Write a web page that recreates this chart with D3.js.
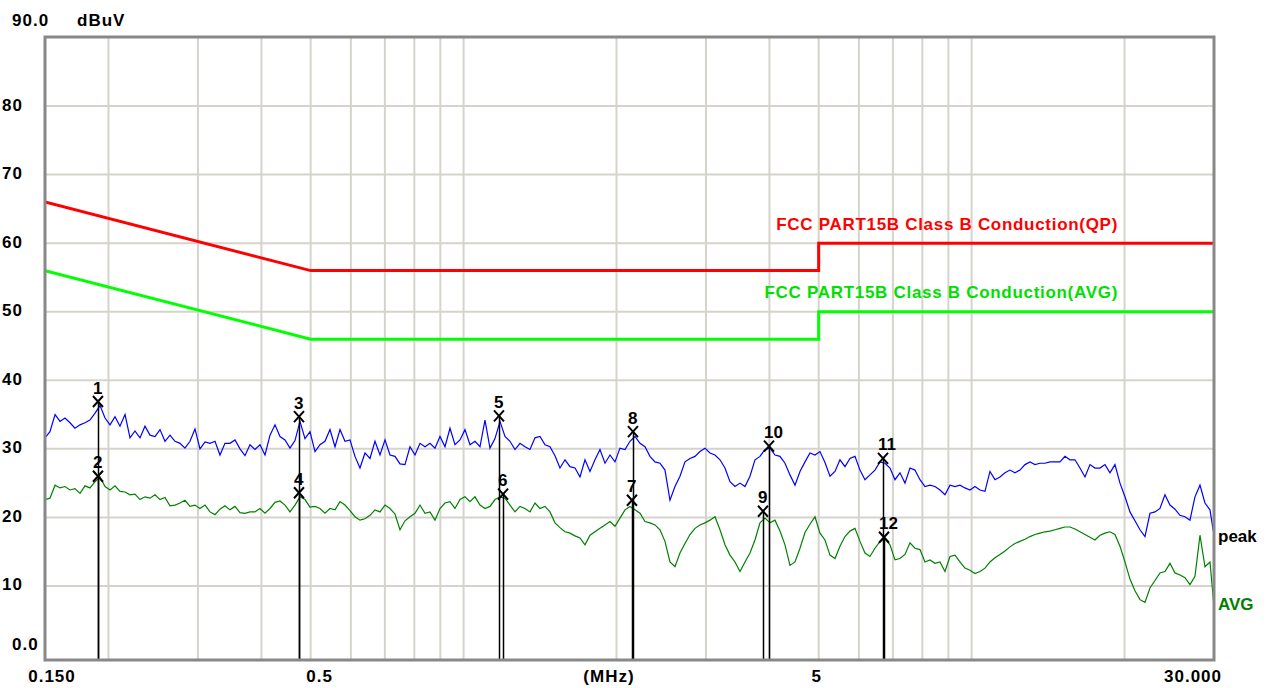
<!DOCTYPE html>
<html><head><meta charset="utf-8">
<script src="https://cdn.jsdelivr.net/npm/d3@7/dist/d3.min.js"></script>
<style>
html,body{margin:0;padding:0;background:#fff;}
svg{display:block;}
text{font-family:"Liberation Sans",Arial,sans-serif;font-weight:bold;}
</style></head><body>
<svg id="chart" width="1275" height="688"></svg>
<script>
// ---- data ----
const freqs = [
0.15,0.1534,0.1570,0.1606,0.1642,0.1680,0.1718,0.1758,0.1798,0.1839,
0.1882,0.1925,0.1969,0.2014,0.2060,0.2107,0.2156,0.2205,0.2255,0.2307,
0.2360,0.2414,0.2470,0.2526,0.2584,0.2643,0.2704,0.2766,0.2829,0.2894,
0.2960,0.3028,0.3098,0.3169,0.3241,0.3315,0.3391,0.3469,0.3549,0.3630,
0.3713,0.3798,0.3885,0.3974,0.4066,0.4159,0.4254,0.4352,0.4451,0.4553,
0.4658,0.4764,0.4874,0.4985,0.5100,0.5216,0.5336,0.5458,0.5584,0.5712,
0.5842,0.5976,0.6113,0.6253,0.6397,0.6543,0.6693,0.6847,0.7004,0.7164,
0.7328,0.7496,0.7668,0.7844,0.8024,0.8207,0.8396,0.8588,0.8785,0.8986,
0.9192,0.9403,0.9619,0.9839,1.0064,1.0295,1.0531,1.0772,1.1019,1.1272,
1.1530,1.1795,1.2065,1.2341,1.2624,1.2913,1.3209,1.3512,1.3822,1.4139,
1.4463,1.4794,1.5134,1.5480,1.5835,1.6198,1.6569,1.6949,1.7338,1.7735,
1.8141,1.8557,1.8983,1.9418,1.9863,2.0318,2.0784,2.1260,2.1747,2.2246,
2.2756,2.3277,2.3811,2.4356,2.4914,2.5485,2.6070,2.6667,2.7278,2.7903,
2.8543,2.9197,2.9867,3.0551,3.1251,3.1967,3.2700,3.3450,3.4217,3.5000,
3.5803,3.6624,3.7463,3.8321,3.9200,4.0098,4.1017,4.1957,4.2919,4.3903,
4.4909,4.5939,4.6992,4.8068,4.9170,5.0297,5.1450,5.2629,5.3836,5.5069,
5.6332,5.7623,5.8944,6.0295,6.1676,6.3090,6.4536,6.6015,6.7528,6.9076,
7.0659,7.2279,7.3935,7.5630,7.7363,7.9136,8.0950,8.2805,8.4703,8.6645,
8.8631,9.0662,9.2741,9.4866,9.7040,9.9264,10.154,10.387,10.625,10.868,
11.117,11.372,11.633,11.899,12.172,12.451,12.736,13.029,13.327,13.632,
13.945,14.265,14.592,14.926,15.268,15.618,15.976,16.342,16.717,17.100,
17.492,17.893,18.303,18.722,19.151,19.590,20.039,20.498,20.968,21.449,
21.941,22.444,22.958,23.484,24.022,24.573,25.136,25.712,26.301,26.904,
27.521,28.152,28.797,29.457,30.0
];
const peakValues = [
31.6,32.5,35.0,34.0,34.5,33.8,33.0,33.5,33.8,34.2,
35.2,36.3,34.5,33.5,34.7,33.3,35.0,31.6,32.6,31.6,
33.3,32.0,31.8,32.8,31.1,32.0,31.1,30.8,30.1,31.1,
32.9,30.0,31.0,30.8,31.1,29.1,30.8,30.8,31.3,30.0,
29.0,30.6,29.9,30.6,29.1,32.0,33.5,31.8,31.3,30.1,
31.2,34.0,31.5,32.5,29.6,30.6,31.1,32.8,30.3,32.8,
31.1,31.3,28.9,27.2,29.4,28.6,31.1,29.1,31.3,29.1,
28.9,27.8,27.7,30.3,29.1,30.8,30.3,30.8,30.1,31.8,
30.3,33.0,30.6,31.3,32.8,30.6,31.1,30.3,34.2,30.1,
31.5,34.0,31.8,31.1,29.9,30.8,30.3,29.9,31.6,31.8,
30.6,30.3,29.0,27.2,28.4,27.4,27.2,25.9,28.4,26.7,
28.4,29.9,27.9,29.1,28.1,30.1,29.9,31.1,31.8,30.8,
30.3,28.9,28.1,27.9,26.9,22.5,24.5,26.0,28.1,28.6,
28.9,29.6,30.1,29.4,29.1,28.4,27.2,25.2,24.5,25.0,
24.5,26.0,28.4,28.9,29.9,30.1,29.1,28.9,27.9,26.2,
24.7,26.7,28.1,29.4,29.1,29.6,28.0,26.0,26.7,28.4,
27.4,28.6,28.9,26.9,25.5,26.2,26.9,28.1,27.9,27.2,
25.5,26.5,25.0,27.2,26.9,25.5,24.5,24.7,24.5,24.0,
23.3,24.7,24.5,24.7,24.3,24.0,24.5,24.0,23.8,26.7,
25.5,25.9,26.5,26.9,26.5,26.9,27.7,28.1,27.7,27.9,
27.9,28.1,28.1,28.1,28.9,28.4,28.4,27.2,25.9,27.7,
27.2,27.2,27.7,26.5,27.7,25.0,23.0,20.8,19.5,18.2,
17.2,20.6,20.8,21.3,23.3,21.8,21.2,20.3,20.1,19.6,
23.0,24.7,22.1,21.1,17.4
];
const avgValues = [
22.6,22.8,24.7,24.3,24.5,24.0,24.2,23.5,24.6,24.3,
25.2,25.9,24.5,24.0,24.6,23.8,23.7,23.3,23.4,22.6,
23.0,22.8,23.3,22.6,22.9,21.7,21.8,22.1,22.5,21.6,
21.8,21.3,21.8,20.8,20.4,21.2,21.7,21.1,21.6,20.7,
20.6,20.8,20.8,21.3,20.6,21.3,22.2,22.4,21.8,20.8,
21.8,23.0,22.6,21.5,21.6,21.3,20.6,21.3,21.1,22.3,
21.8,21.0,20.1,19.6,19.8,20.3,21.1,20.8,21.8,21.3,
20.5,18.2,19.5,20.1,20.6,21.8,20.6,20.8,19.6,21.3,
22.1,22.3,21.3,22.6,23.0,22.3,23.0,21.8,21.3,21.6,
22.6,23.0,22.8,21.8,20.8,21.6,21.3,20.8,22.1,21.3,
21.6,20.8,19.2,18.5,17.9,17.7,17.3,17.0,16.0,17.4,
17.9,18.4,18.9,19.4,18.7,19.9,21.1,21.6,21.1,20.6,
19.4,19.2,18.9,18.2,16.5,13.5,12.8,14.8,16.2,17.5,
18.4,18.9,19.2,19.6,20.1,18.2,16.0,14.5,13.5,12.1,
13.5,14.8,16.7,19.2,19.9,19.2,19.6,18.0,16.0,13.0,
13.5,15.5,17.8,19.0,20.1,17.7,16.7,14.5,14.0,15.8,
17.2,18.0,18.4,16.5,14.8,14.3,15.5,16.5,16.9,16.0,
13.8,14.0,14.6,16.3,15.5,15.3,13.5,13.8,13.3,13.5,
12.1,14.3,14.5,13.5,12.6,12.3,11.8,12.1,12.6,13.5,
14.1,14.6,15.1,15.7,16.2,16.5,16.8,17.2,17.5,17.7,
17.9,18.0,18.2,18.4,18.6,18.6,18.3,17.9,17.5,17.1,
16.7,17.4,17.7,17.9,17.5,15.8,13.5,11.0,9.3,8.0,
7.6,9.7,10.8,11.9,12.1,13.3,11.9,11.6,11.2,10.2,
11.4,17.4,12.8,13.5,7.0
];
const qpLimitFreq = [0.15, 0.5, 5, 5, 30];
const qpLimitLevel = [66, 56, 56, 60, 60];
const avgLimitFreq = [0.15, 0.5, 5, 5, 30];
const avgLimitLevel = [56, 46, 46, 50, 50];
const markerNo = [1,2,3,4,5,6,7,8,9,10,11,12];
const markerFreq = [0.1907,0.1907,0.4743,0.4743,1.174,1.196,2.145,2.155,3.885,3.992,6.693,6.723];
const markerLevel = [36.9,26.0,34.7,23.6,34.8,23.4,22.5,32.5,20.9,30.4,28.6,17.1];
const yTickValues = [0,10,20,30,40,50,60,70,80,90];
const yTickLabels = ["0.0","10","20","30","40","50","60","70","80","90.0"];
const xTickValues = [0.15,0.5,5,30];
const xTickLabels = ["0.150","0.5","5","30.000"];
const xGridValues = [0.2,0.3,0.4,0.5,0.6,0.7,0.8,0.9,1,2,3,4,5,6,7,8,9,10,20];
const yUnit = "dBuV", xUnit = "(MHz)";
const qpLabel = "FCC PART15B Class B Conduction(QP)";
const avgLabel = "FCC PART15B Class B Conduction(AVG)";

// ---- drawing ----
const L = 45, R = 1214, T = 37, B = 660;
const x = d3.scaleLog().domain([0.15, 30]).range([L, R]);
const y = d3.scaleLinear().domain([0, 90]).range([654.5, 37.5]);
const svg = d3.select("#chart");
const gridColor = "#d6d3cc";

// grid
svg.append("g").selectAll("line").data(xGridValues).join("line")
  .attr("x1", d => x(d)).attr("x2", d => x(d)).attr("y1", T).attr("y2", B)
  .attr("stroke", gridColor).attr("stroke-width", 2);
svg.append("g").selectAll("line").data(yTickValues.filter(v => v > 0 && v < 90)).join("line")
  .attr("x1", L).attr("x2", R).attr("y1", d => y(d)).attr("y2", d => y(d))
  .attr("stroke", gridColor).attr("stroke-width", 2);

svg.append("clipPath").attr("id", "pc").append("rect")
  .attr("x", L).attr("y", T).attr("width", R - L).attr("height", B - T);
const plot = svg.append("g").attr("clip-path", "url(#pc)");

// limit lines
const line = d3.line().x(d => x(d[0])).y(d => y(d[1]));
plot.append("path").datum(d3.zip(qpLimitFreq, qpLimitLevel)).attr("d", line)
  .attr("fill", "none").attr("stroke", "#ff0000").attr("stroke-width", 3);
plot.append("path").datum(d3.zip(avgLimitFreq, avgLimitLevel)).attr("d", line)
  .attr("fill", "none").attr("stroke", "#00ff00").attr("stroke-width", 3);

// traces
plot.append("path").datum(d3.zip(freqs, avgValues)).attr("d", line)
  .attr("fill", "none").attr("stroke", "#008000").attr("stroke-width", 1.2);
plot.append("path").datum(d3.zip(freqs, peakValues)).attr("d", line)
  .attr("fill", "none").attr("stroke", "#0000ff").attr("stroke-width", 1.2);

// markers
const mk = svg.append("g").selectAll("g").data(markerNo.map((n, i) => ({n, f: markerFreq[i], v: markerLevel[i]}))).join("g");
mk.append("line").attr("x1", d => Math.round(x(d.f)) + 0.5).attr("x2", d => Math.round(x(d.f)) + 0.5)
  .attr("y1", d => y(d.v)).attr("y2", B).attr("stroke", "#000").attr("stroke-width", 1.5);
mk.append("path").attr("d", d => {
  const cx = x(d.f), cy = y(d.v);
  return `M${cx-5},${cy-5.5}L${cx+5},${cy+5.5}M${cx+5},${cy-5.5}L${cx-5},${cy+5.5}`;
}).attr("stroke", "#000").attr("stroke-width", 2).attr("fill", "none");
mk.append("text").attr("x", d => x(d.f) - 5).attr("y", d => y(d.v) - 8)
  .attr("font-size", 17).attr("fill", "#000").text(d => d.n);

// frame
svg.append("rect").attr("x", L).attr("y", T).attr("width", R - L).attr("height", B - T)
  .attr("fill", "none").attr("stroke", "#888888").attr("stroke-width", 3);

// y labels
svg.append("g").selectAll("text").data(yTickValues).join("text")
  .attr("x", (d, i) => yTickLabels[i].includes(".") ? 12 : 2)
  .attr("y", (d, i) => d === 0 ? y(d) - 4.5 : d === 90 ? 26 : y(d) + 4.5)
  .attr("font-size", 17).attr("letter-spacing", 1).attr("fill", "#000")
  .text((d, i) => yTickLabels[i]);
svg.append("text").attr("x", 77).attr("y", 26).attr("font-size", 17).attr("letter-spacing", 1)
  .attr("fill", "#000").text(yUnit);

// x labels
const xOffsets = [7, 9, -2, -21];
svg.append("g").selectAll("text").data(xTickValues).join("text")
  .attr("x", (d, i) => x(d) + xOffsets[i]).attr("y", 682).attr("text-anchor", "middle")
  .attr("font-size", 17).attr("letter-spacing", 1).attr("fill", "#000")
  .text((d, i) => xTickLabels[i]);
svg.append("text").attr("x", 609).attr("y", 682).attr("text-anchor", "middle")
  .attr("font-size", 17).attr("letter-spacing", 1).attr("fill", "#000").text(xUnit);

// limit labels
svg.append("text").attr("x", 1118).attr("y", 230).attr("text-anchor", "end")
  .attr("font-size", 17).attr("letter-spacing", 0.7).attr("fill", "#ff0000").text(qpLabel);
svg.append("text").attr("x", 1118).attr("y", 298).attr("text-anchor", "end")
  .attr("font-size", 17).attr("letter-spacing", 0.7).attr("fill", "#00e000").text(avgLabel);

// trace labels
svg.append("text").attr("x", 1218).attr("y", 542).attr("font-size", 17).attr("fill", "#000").text("peak");
svg.append("text").attr("x", 1218).attr("y", 610).attr("font-size", 17).attr("fill", "#008000").text("AVG");
</script>
</body></html>
